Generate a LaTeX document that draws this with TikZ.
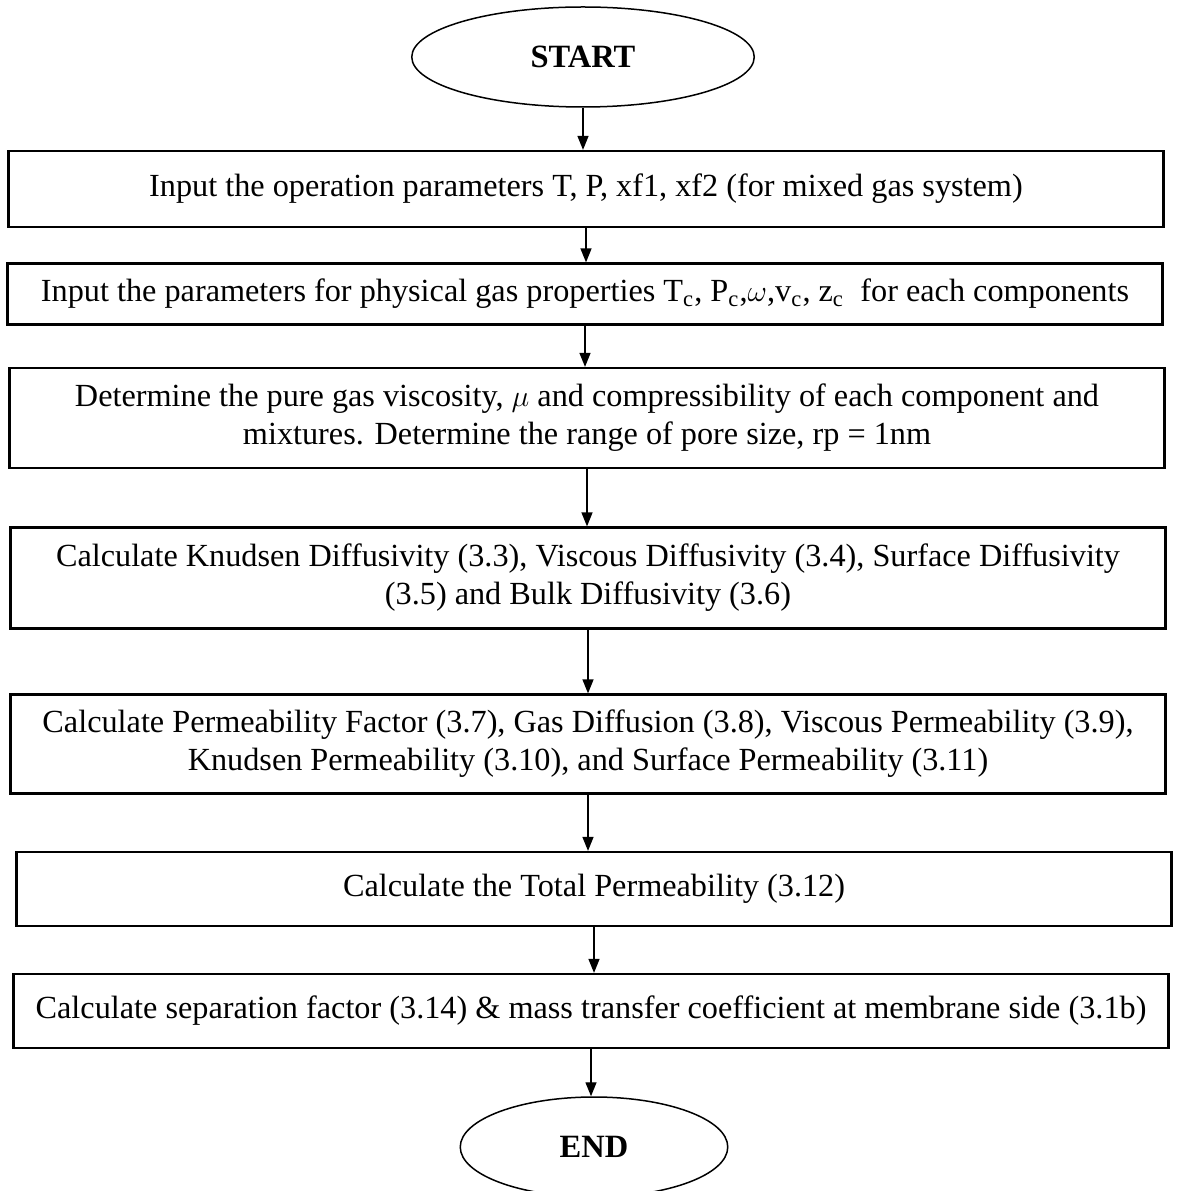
\documentclass[tikz,border=0pt]{standalone}
\usepackage{fontspec}
\setmainfont{Liberation Serif}
\usetikzlibrary{arrows.meta, shapes.geometric}

\begin{document}
\begin{tikzpicture}[
  x=0.4pt, y=-0.4pt,
  font=\fontsize{12.9}{15.2}\selectfont,
  stepbox/.style={rectangle, draw, line width=0.9pt, minimum width=462pt, align=center, inner sep=0pt},
  term/.style={ellipse, draw, line width=0.6pt, font=\fontsize{13}{15}\selectfont\bfseries},
  arrow/.style={-{Triangle[length=5.6pt, width=4.4pt]}, line width=0.55pt}
]
\useasboundingbox (0,0) rectangle (1177,1191);

\node[term, minimum width=137pt, minimum height=40pt] (start) at (583,57) {START};
\node[stepbox, minimum height=30.4pt] (inop) at (586,189)
  {Input the operation parameters T, P, xf1, xf2 (for mixed gas system)};
\node[stepbox, minimum height=24.4pt] (inphys) at (585,294)
  {Input the parameters for physical gas properties T\textsubscript{c}, P\textsubscript{c},$\omega$,v\textsubscript{c}, z\textsubscript{c}\ \ for each components};
\node[stepbox, minimum height=40pt] (visc) at (587,418)
  {Determine the pure gas viscosity, $\mu$ and compressibility of each component and\\
   mixtures. Determine the range of pore size, rp = 1nm};
\node[stepbox, minimum height=40.4pt] (diff) at (588,578)
  {Calculate Knudsen Diffusivity (3.3), Viscous Diffusivity (3.4), Surface Diffusivity\\
   (3.5) and Bulk Diffusivity (3.6)};
\node[stepbox, minimum height=39.6pt] (perm) at (588,744)
  {Calculate Permeability Factor (3.7), Gas Diffusion (3.8), Viscous Permeability (3.9),\\
   Knudsen Permeability (3.10), and Surface Permeability (3.11)};
\node[stepbox, minimum height=29.6pt] (total) at (594,889)
  {Calculate the Total Permeability (3.12)};
\node[stepbox, minimum height=29.6pt] (sep) at (591,1011)
  {Calculate separation factor (3.14) \& mass transfer coefficient at membrane side (3.1b)};
\node[term, minimum width=107pt, minimum height=40pt] (end) at (594,1147) {END};

% connectors
\draw[arrow] (start.south) -- (start.south |- inop.north);
\draw[arrow] (inop.south) -- (inop.south |- inphys.north);
\draw[arrow] (inphys.south) -- (inphys.south |- visc.north);
\draw[arrow] (visc.south) -- (visc.south |- diff.north);
\draw[arrow] (diff.south) -- (diff.south |- perm.north);
\draw[arrow] (perm.south) -- (perm.south |- total.north);
\draw[arrow] (total.south) -- (total.south |- sep.north);
\draw[arrow] (sep.south) -- (sep.south |- end.north);

\end{tikzpicture}
\end{document}
